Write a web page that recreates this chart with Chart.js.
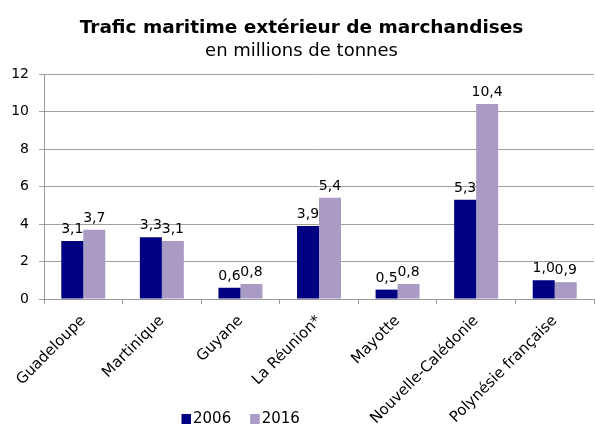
<!DOCTYPE html>
<html>
<head>
<meta charset="utf-8">
<script src="https://cdn.jsdelivr.net/npm/chart.js@4/dist/chart.umd.min.js"></script>
<style>
html,body{margin:0;padding:0;background:#fff;}
#wrap{width:595px;height:426px;position:relative;}
</style>
</head>
<body>
<div id="wrap"><canvas id="c" width="595" height="426"></canvas></div>
<script>
const categories = ["Guadeloupe", "Martinique", "Guyane", "La Réunion*", "Mayotte", "Nouvelle-Calédonie", "Polynésie française"];
const values2006 = [3.1, 3.3, 0.6, 3.9, 0.5, 5.3, 1.0];
const values2016 = [3.7, 3.1, 0.8, 5.4, 0.8, 10.4, 0.9];
const seriesNames = ["2006", "2016"];
const yTicks = [0, 2, 4, 6, 8, 10, 12];

const FONT = "'DejaVu Sans', sans-serif";

const dataLabels = {
  id: 'dataLabels',
  afterDatasetsDraw(chart) {
    const ctx = chart.ctx;
    ctx.save();
    ctx.font = "14px " + FONT;
    ctx.fillStyle = "#000";
    ctx.textAlign = "center";
    ctx.textBaseline = "alphabetic";
    chart.data.datasets.forEach((ds, i) => {
      const meta = chart.getDatasetMeta(i);
      meta.data.forEach((bar, j) => {
        const txt = ds.data[j].toFixed(1).replace('.', ',');
        ctx.fillText(txt, bar.x, bar.y - 8);
      });
    });
    ctx.restore();
  }
};

// Legend drawn from the datasets (label + colour), Excel-style placement
const bottomLegend = {
  id: 'bottomLegend',
  afterDraw(chart) {
    const ctx = chart.ctx;
    ctx.save();
    ctx.font = "15px " + FONT;
    ctx.textBaseline = "middle";
    ctx.textAlign = "left";
    const cy = 419;
    let x = 181.5;
    chart.data.datasets.forEach((ds) => {
      ctx.fillStyle = ds.backgroundColor;
      ctx.fillRect(x, cy - 5, 9.5, 10);
      ctx.fillStyle = "#000";
      ctx.fillText(ds.label, x + 11.5, cy);
      x += 11.5 + ctx.measureText(ds.label).width + 19;
    });
    ctx.restore();
  }
};

new Chart(document.getElementById('c'), {
  type: 'bar',
  data: {
    labels: categories,
    datasets: [
      { label: seriesNames[0], data: values2006, backgroundColor: '#000080', borderWidth: 0 },
      { label: seriesNames[1], data: values2016, backgroundColor: '#a99bc5', borderWidth: 0 }
    ]
  },
  options: {
    responsive: false,
    animation: false,
    devicePixelRatio: 1,
    layout: { padding: { left: 9, right: 1, top: 0, bottom: 0 } },
    datasets: { bar: { categoryPercentage: 0.56, barPercentage: 1.0 } },
    plugins: {
      title: {
        display: true,
        text: 'Trafic maritime extérieur de marchandises',
        font: { family: FONT, size: 18.5, weight: 'bold', lineHeight: 1.2 },
        color: '#000',
        padding: { top: 17, bottom: 1.8 }
      },
      subtitle: {
        display: true,
        text: 'en millions de tonnes',
        font: { family: FONT, size: 18, weight: 'normal', lineHeight: 1.2 },
        color: '#000',
        padding: { top: 0, bottom: 11.4 }
      },
      legend: { display: false },
      tooltip: { enabled: false }
    },
    scales: {
      x: {
        grid: { display: true, drawOnChartArea: false, drawTicks: true, tickLength: 5, color: '#999', offset: true },
        border: { color: '#999' },
        ticks: {
          font: { family: FONT, size: 15 },
          color: '#000',
          minRotation: 45,
          maxRotation: 45,
          padding: 8
        },
        afterFit(scale) { scale.height = 426 - 299; }
      },
      y: {
        min: 0,
        max: 12,
        afterBuildTicks(scale) { scale.ticks = yTicks.map(v => ({ value: v })); },
        grid: { color: '#a0a0a0', drawTicks: true, tickLength: 5 },
        border: { color: '#999' },
        ticks: {
          font: { family: FONT, size: 14 },
          color: '#000',
          padding: 10
        },
        afterFit(scale) { scale.width = 35; }
      }
    }
  },
  plugins: [dataLabels, bottomLegend]
});
</script>
</body>
</html>
